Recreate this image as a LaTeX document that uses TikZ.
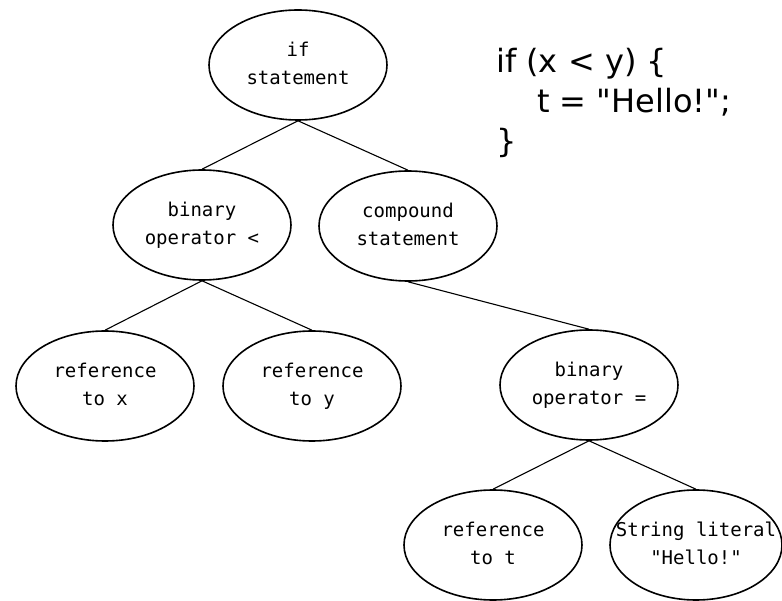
\documentclass[tikz,border=0pt]{standalone}
\usepackage{fontspec}
\setmainfont{DejaVu Sans}[Ligatures=TeXOff]
\newfontfamily\codefont{DejaVu Sans}[Ligatures=TeXOff]
\newfontfamily\monofont{DejaVu Sans Mono}[Ligatures=TeXOff]
\usetikzlibrary{shapes.geometric}
\newcommand{\tlines}[1]{\makebox[0pt]{\begin{tabular}{@{}c@{}}#1\end{tabular}}}
\begin{document}
\begin{tikzpicture}[x=1pt,y=-1pt,
  tnode/.style={draw,line width=1.6pt,ellipse,minimum width=178pt,minimum height=110pt,inner sep=0pt,
    font=\monofont\fontsize{19}{28}\selectfont},
  edge/.style={line width=1.1pt}]
\useasboundingbox (0,0) rectangle (782,601);
\node[tnode] (if) at (298,65) {\tlines{if\\statement}};
\node[tnode] (lt) at (202,225) {\tlines{binary\\operator <}};
\node[tnode] (cs) at (408,226) {\tlines{compound\\statement}};
\node[tnode] (rx) at (105,386) {\tlines{reference\\to x}};
\node[tnode] (ry) at (312,386) {\tlines{reference\\to y}};
\node[tnode] (eq) at (589,385) {\tlines{binary\\operator =}};
\node[tnode] (rt) at (493,545) {\tlines{reference\\to t}};
\node[tnode,minimum width=172pt] (sl) at (696,545) {\tlines{String literal\\"Hello!"}};
\draw[edge] (if.south) -- (lt.north);
\draw[edge] (if.south) -- (cs.north);
\draw[edge] (lt.south) -- (rx.north);
\draw[edge] (lt.south) -- (ry.north);
\draw[edge] (cs.south) -- (eq.north);
\draw[edge] (eq.south) -- (rt.north);
\draw[edge] (eq.south) -- (sl.north);
\node[anchor=north west,align=left,inner sep=0pt,font=\codefont\fontsize{32}{40}\selectfont] (code) at (496,48)
  {if (x < y) \{\\\hspace*{41pt}t = "Hello!";\\\}};
\end{tikzpicture}
\end{document}
